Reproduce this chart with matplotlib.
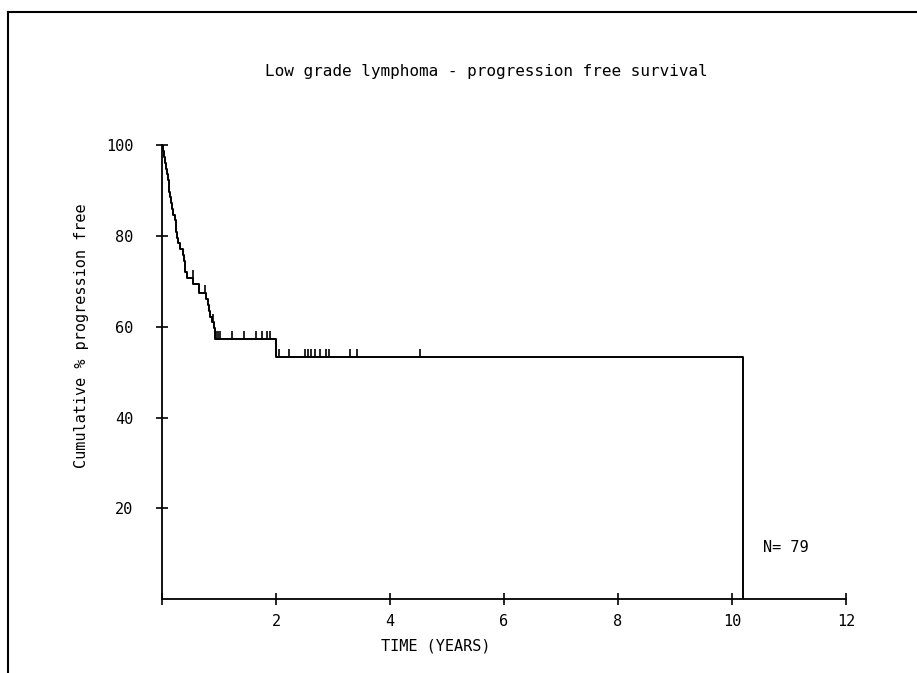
import numpy as np
import matplotlib
matplotlib.use("Agg")
import matplotlib.pyplot as plt
from matplotlib.lines import Line2D

# step points of the survival curve (years, cumulative % progression free)
step_t = [0.00, 0.02, 0.04, 0.05, 0.07, 0.09, 0.11, 0.12, 0.14, 0.16, 0.18,
          0.20, 0.22, 0.24, 0.26, 0.28, 0.32, 0.36, 0.38, 0.40, 0.41, 0.43,
          0.55, 0.64, 0.78, 0.80, 0.82, 0.84, 0.88, 0.91, 0.93, 2.00, 10.20]
step_s = [100.0, 98.7, 97.5, 96.2, 94.9, 93.6, 92.4, 89.8, 88.6, 87.3, 86.0,
          84.7, 83.5, 80.9, 79.6, 78.4, 77.1, 75.8, 74.5, 73.3, 72.0, 70.7,
          69.5, 67.4, 66.1, 64.8, 63.5, 62.2, 61.0, 59.7, 57.3, 53.3, 0.0]

# censored observations (years)
censor_t = [0.54, 0.75, 0.89,
            0.95, 0.98, 1.01, 1.23, 1.44, 1.64, 1.76, 1.84, 1.89,
            2.05, 2.22, 2.51, 2.56, 2.61, 2.68, 2.77, 2.88, 2.93,
            3.29, 3.42, 4.53]

x_ticks = [0, 2, 4, 6, 8, 10, 12]
x_labels = ["", "2", "4", "6", "8", "10", "12"]
y_ticks = [20, 40, 60, 80, 100]
n_patients = 79

FONT = "DejaVu Sans Mono"

fig = plt.figure(figsize=(9.17, 6.73), dpi=100)
ax = fig.add_axes([0.1767, 0.1100, 0.7459, 0.6740])

ax.step(step_t, step_s, where="post", color="black", lw=1.4)

# censor marks sit on the curve and point upwards
idx = np.searchsorted(step_t, censor_t, side="right") - 1
lev = np.array(step_s)[idx]
ax.vlines(censor_t, lev, lev + 1.8, color="black", lw=1.2)

ax.set_xlim(0, 12)
ax.set_ylim(0, 100)
ax.set_xticks(x_ticks)
ax.set_xticklabels(x_labels)
ax.set_yticks(y_ticks)
ax.tick_params(axis="both", direction="inout", length=9, width=1.2,
               labelsize=11)
ax.tick_params(axis="x", pad=6)
ax.tick_params(axis="y", pad=16)
for lab in ax.get_xticklabels() + ax.get_yticklabels():
    lab.set_family(FONT)

for side in ["top", "right"]:
    ax.spines[side].set_visible(False)
for side in ["left", "bottom"]:
    ax.spines[side].set_linewidth(1.3)
ax.patch.set_visible(False)

ax.set_xlabel("TIME (YEARS)", family=FONT, fontsize=11)
ax.xaxis.set_label_coords(0.40, -0.088)
ax.set_ylabel("Cumulative % progression free", family=FONT, fontsize=11)
ax.yaxis.set_label_coords(-0.107, 0.58)

ax.text(10.55, 11.4, "N= %d" % n_patients, family=FONT, fontsize=11,
        va="center", ha="left")

fig.text(0.530, 0.894, "Low grade lymphoma - progression free survival",
         family=FONT, fontsize=11.5, ha="center", va="center")

# page frame (top and left edges of the scanned box)
fig.add_artist(Line2D([0.009, 1.0], [0.982, 0.982], color="black", lw=1.5,
                      transform=fig.transFigure))
fig.add_artist(Line2D([0.009, 0.009], [0.0, 0.982], color="black", lw=1.5,
                      transform=fig.transFigure))

fig.savefig("out.png", dpi=100)
